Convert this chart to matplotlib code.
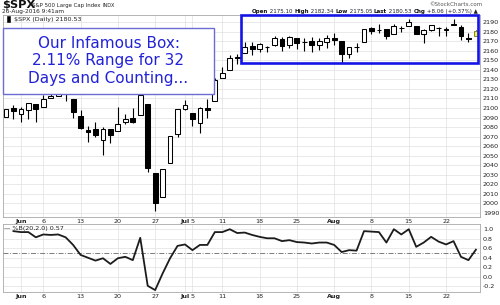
import matplotlib
matplotlib.use('Agg')
import matplotlib.pyplot as plt
import numpy as np
import pandas as pd
from matplotlib.patches import Rectangle

# ---------------- data ----------------
dates = pd.bdate_range('2016-05-27', '2016-08-26')
dates = dates[~dates.isin(pd.to_datetime(['2016-05-30', '2016-07-04']))]

opens = [2090.06, 2100.13, 2093.94, 2097.71, 2104.07, 2100.83, 2110.18, 2112.71, 2115.65, 2109.57,
         2091.75, 2076.65, 2077.60, 2066.36, 2078.20, 2075.58, 2085.19, 2089.75, 2092.80, 2103.81,
         2031.45, 2006.67, 2042.69, 2073.17, 2099.34, 2095.05, 2084.43, 2100.42, 2106.97, 2131.72,
         2139.50, 2153.81, 2157.88, 2165.13, 2162.04, 2163.79, 2166.10, 2172.91, 2166.47, 2173.71,
         2168.97, 2169.81, 2166.05, 2168.83, 2173.15, 2169.94, 2156.81, 2163.51, 2168.79, 2183.76,
         2182.24, 2182.81, 2177.97, 2183.74, 2186.08, 2186.24, 2177.84, 2181.90, 2184.24, 2181.58,
         2187.81, 2185.09, 2173.29, 2175.10]
highs = [2099.06, 2103.48, 2100.97, 2105.26, 2104.07, 2113.36, 2119.22, 2120.55, 2117.64, 2109.57,
         2098.12, 2081.30, 2085.65, 2079.62, 2078.20, 2100.66, 2093.66, 2099.71, 2113.32, 2103.81,
         2031.45, 2036.09, 2070.00, 2098.94, 2108.71, 2095.05, 2100.72, 2109.08, 2131.71, 2143.16,
         2155.40, 2156.45, 2169.05, 2169.05, 2168.35, 2164.63, 2175.63, 2174.56, 2175.11, 2173.71,
         2173.54, 2174.98, 2173.14, 2177.09, 2178.29, 2170.20, 2163.79, 2168.19, 2182.87, 2185.44,
         2187.66, 2183.41, 2188.45, 2186.28, 2193.81, 2186.24, 2183.08, 2187.03, 2185.00, 2184.94,
         2193.42, 2186.66, 2179.00, 2182.34]
lows = [2090.06, 2088.66, 2085.10, 2088.59, 2085.36, 2100.83, 2110.18, 2112.71, 2107.73, 2089.96,
        2078.46, 2064.10, 2069.80, 2050.37, 2062.84, 2075.58, 2083.02, 2084.36, 2092.80, 2032.57,
        1991.68, 2006.67, 2042.69, 2070.00, 2097.90, 2080.86, 2074.02, 2089.39, 2106.97, 2131.72,
        2139.50, 2146.21, 2157.88, 2155.79, 2159.07, 2159.01, 2164.89, 2159.75, 2163.24, 2161.95,
        2160.18, 2159.07, 2160.80, 2163.49, 2166.21, 2147.58, 2152.56, 2159.07, 2168.79, 2177.85,
        2178.61, 2172.00, 2177.97, 2179.42, 2186.08, 2178.14, 2168.50, 2180.46, 2175.13, 2175.96,
        2186.80, 2171.25, 2169.74, 2175.05]
closes = [2099.06, 2096.95, 2099.33, 2105.26, 2099.13, 2109.41, 2112.13, 2119.12, 2115.48, 2096.07,
          2079.06, 2075.32, 2071.50, 2077.99, 2071.22, 2083.25, 2088.90, 2085.45, 2113.32, 2037.41,
          2000.54, 2036.09, 2070.77, 2098.86, 2102.95, 2088.55, 2099.73, 2097.90, 2129.90, 2137.16,
          2152.14, 2152.43, 2163.75, 2161.74, 2166.89, 2163.78, 2173.02, 2165.17, 2175.03, 2168.48,
          2169.18, 2166.58, 2170.06, 2173.60, 2170.84, 2157.03, 2163.79, 2164.25, 2182.87, 2180.89,
          2181.74, 2175.49, 2185.79, 2184.05, 2190.15, 2178.15, 2182.22, 2187.02, 2183.87, 2182.64,
          2186.90, 2175.44, 2172.47, 2180.53]

# %B(20,2.0), starting 2016-05-31
pctb = [0.96, 0.94, 0.94, 0.83, 0.89, 0.88, 0.89, 0.83, 0.67, 0.46,
        0.40, 0.34, 0.39, 0.27, 0.39, 0.42, 0.35, 0.82, -0.19, -0.28,
        0.07, 0.39, 0.65, 0.68, 0.56, 0.67, 0.67, 0.94, 0.94, 1.00,
        0.92, 0.93, 0.88, 0.84, 0.81, 0.81, 0.75, 0.77, 0.73, 0.72,
        0.70, 0.72, 0.72, 0.67, 0.52, 0.56, 0.55, 0.96, 0.95, 0.94,
        0.72, 1.00, 0.89, 1.00, 0.63, 0.72, 0.84, 0.74, 0.68, 0.75,
        0.42, 0.35, 0.57]

tick_dates = ['2016-06-01', '2016-06-06', '2016-06-13', '2016-06-20', '2016-06-27',
              '2016-07-01', '2016-07-05', '2016-07-11', '2016-07-18', '2016-07-25',
              '2016-08-01', '2016-08-08', '2016-08-15', '2016-08-22']
tick_labels = ['Jun', '6', '13', '20', '27', 'Jul', '5', '11', '18', '25', 'Aug', '8', '15', '22']
month_labels = {'Jun', 'Jul', 'Aug'}
price_ticks = list(range(1990, 2200, 10))
pctb_ticks = [-0.2, 0.0, 0.2, 0.4, 0.6, 0.8, 1.0]

# ---------------- figure ----------------
W, H = 500, 305
fig = plt.figure(figsize=(W / 100, H / 100), dpi=100)
fig.patch.set_facecolor('white')

def fx(px):
    return px / W

def fy(py):
    return 1 - py / H

GRID = '#e3e3e3'
SPINE = '#a8a8a8'
TXT = '#222222'

ax = fig.add_axes([fx(3), fy(217), (480 - 3) / W, (217 - 15) / H])
ax2 = fig.add_axes([fx(3), fy(292), (480 - 3) / W, (292 - 224) / H])

x = np.arange(len(dates))
o = np.array(opens); h = np.array(highs); l = np.array(lows); c = np.array(closes)
date_index = {d.strftime('%Y-%m-%d'): i for i, d in enumerate(dates)}
tick_pos = [date_index[d] for d in tick_dates]

xmin, xmax = -0.4, 63.55

# main price panel
ax.vlines(x, l, h, color='black', lw=0.8, zorder=3)
up = c >= o
faces = ['white' if u else 'black' for u in up]
edges = ['black'] * len(x)
faces[-1] = '#f4ef58'
edges[-1] = '#8c8a20'
body_bot = np.minimum(o, c)
body_h = np.maximum(np.abs(c - o), 0.4)
ax.bar(x, body_h, bottom=body_bot, width=0.64, color=faces, edgecolor=edges,
       linewidth=0.75, zorder=4)

ax.set_xlim(xmin, xmax)
ax.set_ylim(1985.6, 2197.6)
ax.set_yticks(price_ticks)
ax.set_yticklabels([str(t) for t in price_ticks])
ax.yaxis.tick_right()
ax.set_xticks(tick_pos)
ax.set_xticklabels(tick_labels)
ax.tick_params(axis='both', length=0, labelsize=4.6, colors=TXT, pad=2)
ax.tick_params(axis='x', pad=1.2)
ax.grid(True, color=GRID, lw=0.55, zorder=0)
ax.set_axisbelow(True)
for s in ax.spines.values():
    s.set_color(SPINE); s.set_linewidth(0.6)

# blue box
ax.add_patch(Rectangle((31.45, 2147.5), 63.27 - 31.45, 2197.3 - 2147.5, fill=False,
                       edgecolor='#1414e6', lw=1.9, zorder=6, clip_on=False))

# lower %B panel
xb = x[1:]
ax2.plot(xb, pctb, color='#1c1c1c', lw=1.3, zorder=4)
ax2.axhline(0.5, color='#666666', lw=0.6, dashes=(6, 2, 1, 2), zorder=3)
ax2.set_xlim(xmin, xmax)
ax2.set_ylim(-0.32, 1.11)
ax2.set_yticks(pctb_ticks)
ax2.set_yticklabels(['%.1f' % t for t in pctb_ticks])
ax2.yaxis.tick_right()
ax2.set_xticks(tick_pos)
ax2.set_xticklabels(tick_labels)
ax2.tick_params(axis='both', length=0, labelsize=4.6, colors=TXT, pad=2)
ax2.tick_params(axis='x', pad=1.2)
ax2.grid(True, color=GRID, lw=0.55, zorder=0)
ax2.set_axisbelow(True)
for s in ax2.spines.values():
    s.set_color(SPINE); s.set_linewidth(0.6)

for a in (ax, ax2):
    for lab in a.get_xticklabels():
        if lab.get_text() in month_labels:
            lab.set_fontweight('bold')

# legends inside panels
fig.text(fx(14), fy(19), '$SPX (Daily) 2180.53', fontsize=4.6, color=TXT, va='center', ha='left')
fig.add_artist(Rectangle((fx(7), fy(21.5)), 3 / W, 5 / H, transform=fig.transFigure,
                         facecolor='black', edgecolor='black', lw=0.4))
fig.text(fx(4), fy(228.5), '\u2014 %B(20,2.0) 0.57', fontsize=4.6, color=TXT, va='center', ha='left')

# header
fig.canvas.draw()
renderer = fig.canvas.get_renderer()

fig.text(fx(2), fy(5.5), '$SPX', fontsize=8.2, fontweight='bold', color='#111111', va='center', ha='left')
t = fig.text(fx(32), fy(5.5), 'S&P 500 Large Cap Index', fontsize=3.9, color=TXT, va='center', ha='left')
wpx = t.get_window_extent(renderer=renderer).width
fig.text(fx(32 + wpx + 2), fy(5.5), 'INDX', fontsize=3.5, color=TXT, va='center', ha='left')
fig.text(fx(2), fy(12), '26-Aug-2016 9:41am', fontsize=4.2, color=TXT, va='center', ha='left')
fig.text(fx(482), fy(4), '\u00a9StockCharts.com', fontsize=4.1, color='#555555', va='center', ha='right')

parts = [('Open', True), (' 2175.10 ', False), ('High', True), (' 2182.34 ', False),
         ('Low', True), (' 2175.05 ', False), ('Last', True), (' 2180.53 ', False),
         ('Chg', True), (' +8.06 (+0.37%) \u25b2', False)]
xpos = 252
for txt, bold in parts:
    t = fig.text(fx(xpos), fy(11.5), txt, fontsize=4.0, fontweight='bold' if bold else 'normal',
                 color='#111111' if bold else TXT, va='center', ha='left')
    bb = t.get_window_extent(renderer=renderer)
    xpos += bb.width

# annotation box
fig.add_artist(Rectangle((fx(3), fy(94)), (214 - 3) / W, (94 - 28) / H, transform=fig.transFigure,
                         facecolor='white', edgecolor='#6c6cd2', lw=1.0, zorder=10))
for yy, line in [(43, 'Our Infamous Box:'), (61, '2.11% Range for 32'), (79, 'Days and Counting...')]:
    fig.text(fx(108.5), fy(yy), line, fontsize=11, color='#2222d8', va='center', ha='center', zorder=11)

fig.savefig('out.png', dpi=100, facecolor='white')
